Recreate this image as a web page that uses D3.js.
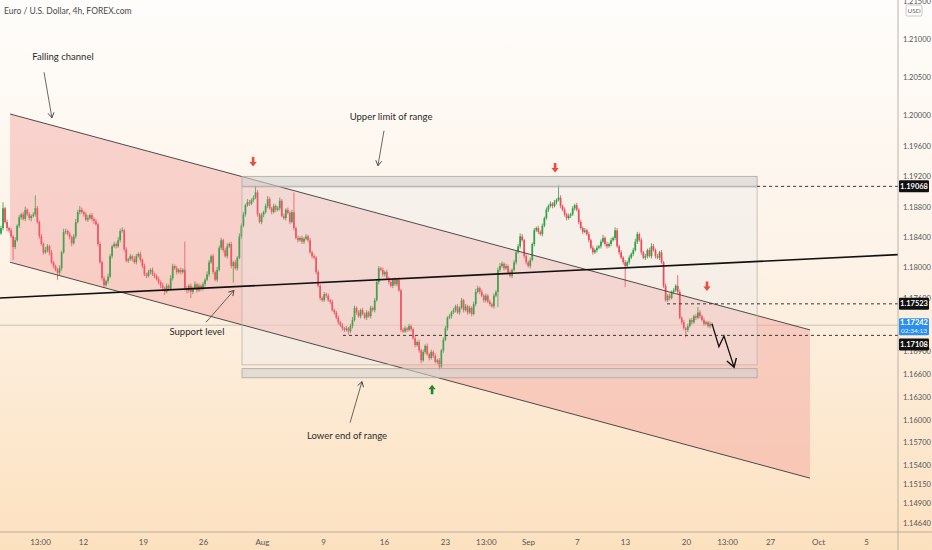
<!DOCTYPE html>
<html lang="en">
<head>
<meta charset="UTF-8">
<title>Euro / U.S. Dollar, 4h</title>
<script src="https://d3js.org/d3.v7.min.js"></script>
<style>
  body { margin: 0; background: #fff; }
  svg { display: block; font-family: Lato, "Open Sans", sans-serif; }
</style>
</head>
<body>
<svg width="932" height="550"></svg>
<script>
// 4h closes, one per bar
const closes = [
  1.1852, 1.1878, 1.1860, 1.1852, 1.1849, 1.1841, 1.1827, 1.1836, 1.1855, 1.1866,
  1.1870, 1.1864, 1.1876, 1.1870, 1.1865, 1.1868, 1.1870, 1.1878, 1.1860, 1.1841,
  1.1831, 1.1820, 1.1823, 1.1828, 1.1820, 1.1807, 1.1802, 1.1797, 1.1793, 1.1799,
  1.1820, 1.1847, 1.1848, 1.1844, 1.1840, 1.1832, 1.1841, 1.1860, 1.1873, 1.1876,
  1.1873, 1.1870, 1.1863, 1.1865, 1.1869, 1.1864, 1.1861, 1.1857, 1.1831, 1.1807,
  1.1786, 1.1777, 1.1782, 1.1788, 1.1815, 1.1828, 1.1831, 1.1828, 1.1836, 1.1848,
  1.1849, 1.1824, 1.1809, 1.1811, 1.1815, 1.1811, 1.1807, 1.1815, 1.1818, 1.1810,
  1.1802, 1.1791, 1.1789, 1.1794, 1.1797, 1.1791, 1.1789, 1.1785, 1.1781, 1.1777,
  1.1773, 1.1768, 1.1776, 1.1772, 1.1786, 1.1802, 1.1799, 1.1794, 1.1797, 1.1794,
  1.1797, 1.1773, 1.1770, 1.1776, 1.1768, 1.1773, 1.1778, 1.1770, 1.1776, 1.1772,
  1.1778, 1.1784, 1.1791, 1.1807, 1.1815, 1.1794, 1.1784, 1.1797, 1.1826, 1.1836,
  1.1823, 1.1815, 1.1828, 1.1831, 1.1802, 1.1807, 1.1799, 1.1813, 1.1841, 1.1855,
  1.1870, 1.1882, 1.1886, 1.1884, 1.1889, 1.1892, 1.1899, 1.1870, 1.1860, 1.1869,
  1.1873, 1.1881, 1.1890, 1.1878, 1.1873, 1.1881, 1.1876, 1.1878, 1.1888, 1.1868,
  1.1865, 1.1876, 1.1872, 1.1860, 1.1873, 1.1852, 1.1839, 1.1836, 1.1839, 1.1834,
  1.1838, 1.1841, 1.1836, 1.1820, 1.1815, 1.1813, 1.1794, 1.1776, 1.1760, 1.1757,
  1.1765, 1.1763, 1.1757, 1.1755, 1.1744, 1.1741, 1.1734, 1.1728, 1.1724, 1.1720,
  1.1718, 1.1720, 1.1716, 1.1723, 1.1731, 1.1747, 1.1741, 1.1736, 1.1744, 1.1739,
  1.1734, 1.1741, 1.1736, 1.1747, 1.1744, 1.1757, 1.1781, 1.1799, 1.1797, 1.1791,
  1.1794, 1.1786, 1.1781, 1.1776, 1.1784, 1.1778, 1.1784, 1.1770, 1.1718, 1.1716,
  1.1720, 1.1718, 1.1723, 1.1719, 1.1707, 1.1698, 1.1702, 1.1691, 1.1678, 1.1689,
  1.1697, 1.1686, 1.1681, 1.1689, 1.1684, 1.1676, 1.1678, 1.1670, 1.1691, 1.1705,
  1.1720, 1.1734, 1.1736, 1.1741, 1.1744, 1.1749, 1.1741, 1.1747, 1.1757, 1.1744,
  1.1749, 1.1741, 1.1747, 1.1739, 1.1752, 1.1768, 1.1773, 1.1768, 1.1763, 1.1757,
  1.1763, 1.1755, 1.1752, 1.1749, 1.1763, 1.1768, 1.1797, 1.1802, 1.1805, 1.1799,
  1.1802, 1.1794, 1.1789, 1.1797, 1.1807, 1.1820, 1.1828, 1.1841, 1.1836, 1.1815,
  1.1807, 1.1802, 1.1810, 1.1831, 1.1849, 1.1852, 1.1847, 1.1844, 1.1855, 1.1865,
  1.1876, 1.1881, 1.1884, 1.1881, 1.1886, 1.1889, 1.1892, 1.1881, 1.1876, 1.1870,
  1.1865, 1.1868, 1.1870, 1.1878, 1.1882, 1.1876, 1.1860, 1.1852, 1.1847, 1.1849,
  1.1844, 1.1836, 1.1826, 1.1820, 1.1823, 1.1826, 1.1828, 1.1834, 1.1839, 1.1831,
  1.1828, 1.1831, 1.1836, 1.1839, 1.1849, 1.1828, 1.1820, 1.1813, 1.1807, 1.1802,
  1.1807, 1.1813, 1.1818, 1.1823, 1.1834, 1.1844, 1.1836, 1.1820, 1.1813, 1.1815,
  1.1823, 1.1815, 1.1828, 1.1823, 1.1815, 1.1813, 1.1820, 1.1807, 1.1776, 1.1757,
  1.1763, 1.1760, 1.1768, 1.1770, 1.1776, 1.1768, 1.1734, 1.1728, 1.1720, 1.1718,
  1.1723, 1.1731, 1.1728, 1.1736, 1.1734, 1.1741, 1.1736, 1.1731, 1.1726, 1.1728,
  1.1723, 1.1726, 1.1724
];
const firstOpen = 1.1845;

// wick lengths beyond the body, in pips
const wickUp = [
  3,8,2,3,2,3,2,4,2,3, 2,3,4,2,3,2,3,17,3,2, 3,2,4,3,2,3,2,2,3,4, 2,4,3,2,3,2,3,4,3,5,
  3,2,3,4,2,3,2,3,2,3, 2,3,2,4,3,2,3,2,4,3, 4,2,3,2,3,2,4,3,2,3, 2,3,2,3,2,3,2,2,3,2,
  3,2,3,2,4,3,2,3,2,3, 2,37,3,2,3,2,4,2,3,2, 3,2,4,3,2,3,2,4,3,3, 2,3,4,2,3,2,3,2,4,3,
  3,2,4,3,2,3,9,3,2,3, 2,3,4,3,2,3,2,3,4,2, 3,2,3,2,3,26,2,3,2,3, 2,3,2,3,2,3,2,3,2,2,
  3,2,3,2,3,2,2,3,2,3, 2,3,2,3,4,3,2,3,2,3, 2,3,2,3,2,3,4,3,2,3, 2,3,2,3,2,3,2,3,2,3,
  3,2,3,2,2,3,2,3,2,3, 2,3,2,3,2,3,2,3,2,3, 3,2,3,2,3,2,3,2,3,2, 3,2,3,2,3,4,3,2,3,2,
  3,2,3,2,3,2,3,4,3,2, 3,2,3,2,3,2,3,4,3,2, 3,2,3,2,3,2,3,2,3,2, 3,2,3,2,3,2,17,3,2,3,
  2,3,2,3,2,3,2,3,2,3, 2,3,2,3,2,3,2,3,4,2, 3,2,3,2,4,3,2,3,2,3, 2,3,2,3,4,3,2,3,2,3,
  2,3,4,3,2,3,2,3,2,3, 2,3,2,3,2,14,3,2,3,2, 3,2,3,2,3,7,3,2,3,2, 2,3,2
];
const wickDown = [
  2,3,2,4,3,2,17,3,2,3, 3,2,3,2,3,4,2,3,2,3, 2,3,2,3,4,2,3,2,9,3, 3,2,3,2,3,4,2,3,2,3,
  2,3,2,3,2,3,4,2,3,2, 3,4,2,3,2,3,2,3,2,3, 2,3,2,3,2,3,2,3,2,3, 3,2,3,2,3,2,3,2,3,4,
  3,4,2,3,2,3,2,3,2,3, 2,3,4,3,8,3,2,3,2,3, 2,3,2,3,2,3,2,3,2,3, 3,2,3,2,3,22,2,3,2,3,
  2,3,2,3,2,3,2,3,2,3, 3,2,3,2,3,2,3,2,3,2, 2,3,2,3,2,3,2,3,2,3, 3,2,3,2,3,2,3,2,3,2,
  2,3,2,3,2,3,2,3,2,3, 3,2,4,2,3,2,3,2,3,2, 2,3,2,3,2,3,2,3,2,3, 3,2,3,2,3,2,3,2,3,2,
  2,3,2,3,2,3,2,3,4,2, 3,2,3,2,3,2,3,5,2,3, 2,3,2,3,2,3,2,3,2,3, 2,3,2,3,2,3,2,3,2,3,
  3,2,3,2,3,2,20,3,2,3, 2,3,2,3,2,3,2,3,2,3, 3,2,3,2,3,2,3,2,3,2, 2,3,2,3,2,3,2,3,2,3,
  3,2,3,2,3,2,3,2,3,2, 2,3,2,3,2,3,2,3,2,3, 3,2,3,2,3,2,3,2,3,28, 2,3,2,3,2,3,2,3,2,3,
  3,2,3,2,3,2,3,2,3,2, 2,3,2,3,2,3,2,3,2,10, 3,2,3,2,3,2,3,2,3,2, 2,3,2
];

// axes
const priceTicks = [1.215, 1.21, 1.205, 1.2, 1.196, 1.192, 1.188, 1.184, 1.18, 1.176,
  1.169, 1.166, 1.163, 1.16, 1.157, 1.154, 1.1515, 1.149, 1.1464];
const timeTickBars = [19.3, 40.6, 70.3, 100, 129.2, 159.4, 189.6, 219.8, 240, 260.9,
  285, 308.9, 339.1, 359.4, 380.7, 404.5, 428.2];
const timeTickLabels = ["13:00", "12", "19", "26", "Aug", "9", "16", "23", "13:00", "Sep",
  "7", "13", "20", "13:00", "27", "Oct", "5"];

// drawings, as [bar, price]
const channelTop = [[4.5, 1.2002], [400.5, 1.1718]];
const channelBottom = [[4.5, 1.1807], [400.5, 1.1523]];
const supportLine = [[-0.5, 1.1760], [444, 1.1817]];
const rangeBars = [119.3, 374.3];
const rangeTopBand = [1.1920, 1.1907];
const rangeBox = [1.1906, 1.1672];
const rangeBottomBand = [1.1667, 1.1655];
const levels = [
  { price: 1.19068, from: 374.3 },
  { price: 1.17523, from: 329.7 },
  { price: 1.17108, from: 169.3 }
];
const lastPrice = 1.17242;
const countdown = "02:34:13";
const projection = [[352, 1.1726], [355.4, 1.1696], [357.9, 1.1710], [362.9, 1.1669]];
const redArrows = [[124.8, 1.1939], [274.3, 1.1931], [349.5, 1.1775]];
const greenArrows = [[213.4, 1.1640]];
const notes = [
  { text: "Falling channel", at: [30.7, 1.2076], from: [21.3, 1.2057], to: [25.2, 1.1997] },
  { text: "Upper limit of range", at: [193.1, 1.1997], from: [189.6, 1.1980], to: [186.6, 1.1934] },
  { text: "Support level", at: [97, 1.1714], from: [101.5, 1.1728], to: [115.3, 1.1770] },
  { text: "Lower end of range", at: [171.3, 1.1578], from: [172.8, 1.1596], to: [178.7, 1.1650] }
];

const W = 932, H = 550, plotR = 898, plotB = 532;
const upColor = "#2f9e42", downColor = "#ee4a5b";

const x = d3.scaleLinear().domain([0, 444]).range([1, 897.9]);
const y = d3.scaleLinear().domain([1.1464, 1.21]).range([523, 39.5]);
const pt = d => [x(d[0]), y(d[1])];

const svg = d3.select("svg");
const defs = svg.append("defs");

const bg = defs.append("linearGradient").attr("id", "bg")
  .attr("x1", 0).attr("y1", 0).attr("x2", 0).attr("y2", 1);
bg.append("stop").attr("offset", "0%").attr("stop-color", "#fefdfb");
bg.append("stop").attr("offset", "45%").attr("stop-color", "#fdf3e8");
bg.append("stop").attr("offset", "100%").attr("stop-color", "#fce1bf");

defs.append("clipPath").attr("id", "plot")
  .append("rect").attr("width", plotR).attr("height", plotB);

const head = defs.append("marker").attr("id", "head")
  .attr("markerUnits", "userSpaceOnUse")
  .attr("viewBox", "-6 -4 8 8").attr("refX", 0).attr("refY", 0)
  .attr("markerWidth", 8).attr("markerHeight", 8).attr("orient", "auto");
head.append("path").attr("d", "M-5,-3 L0,0 L-5,3")
  .attr("fill", "none").attr("stroke", "#444").attr("stroke-width", 0.9);

const bigHead = defs.append("marker").attr("id", "bigHead")
  .attr("markerUnits", "userSpaceOnUse")
  .attr("viewBox", "-9 -6 11 12").attr("refX", 0).attr("refY", 0)
  .attr("markerWidth", 11).attr("markerHeight", 12).attr("orient", "auto");
bigHead.append("path").attr("d", "M-8,-5 L0,0 L-8,5")
  .attr("fill", "none").attr("stroke", "#111").attr("stroke-width", 1.4);

svg.append("rect").attr("width", W).attr("height", H).attr("fill", "url(#bg)");

const plot = svg.append("g").attr("clip-path", "url(#plot)");

// current price line
plot.append("line")
  .attr("x1", 0).attr("x2", plotR)
  .attr("y1", y(lastPrice)).attr("y2", y(lastPrice))
  .attr("stroke", "#bdbab6").attr("stroke-width", 0.8);

// falling channel fill and range fills sit under the candles
const chan = [channelTop[0], channelTop[1], channelBottom[1], channelBottom[0]].map(pt);
plot.append("path")
  .attr("d", "M" + chan.join("L") + "Z")
  .attr("fill", "#f28f8f").attr("fill-opacity", 0.32);

const rx0 = x(rangeBars[0]), rx1 = x(rangeBars[1]);
plot.append("rect")
  .attr("x", rx0).attr("width", rx1 - rx0)
  .attr("y", y(rangeBox[0])).attr("height", y(rangeBox[1]) - y(rangeBox[0]))
  .attr("fill", "#ececec").attr("fill-opacity", 0.4);

// candles
const candles = closes.map((c, i) => {
  const o = i ? closes[i - 1] : firstOpen;
  return {
    i, o, c,
    h: Math.max(o, c) + wickUp[i] / 10000,
    l: Math.min(o, c) - wickDown[i] / 10000
  };
});

const cg = plot.append("g");
cg.selectAll("line").data(candles).join("line")
  .attr("x1", d => x(d.i)).attr("x2", d => x(d.i))
  .attr("y1", d => y(d.h)).attr("y2", d => y(d.l))
  .attr("stroke", d => d.c >= d.o ? upColor : downColor)
  .attr("stroke-width", 0.8);
cg.selectAll("rect").data(candles).join("rect")
  .attr("x", d => x(d.i) - 0.85).attr("width", 1.7)
  .attr("y", d => y(Math.max(d.o, d.c)))
  .attr("height", d => Math.max(0.8, Math.abs(y(d.o) - y(d.c))))
  .attr("fill", d => d.c >= d.o ? upColor : downColor);

// light veil of the drawings over the candles
plot.append("path")
  .attr("d", "M" + chan.join("L") + "Z")
  .attr("fill", "#f6b3b0").attr("fill-opacity", 0.12);

[channelTop, channelBottom].forEach(l => {
  plot.append("line")
    .attr("x1", x(l[0][0])).attr("y1", y(l[0][1]))
    .attr("x2", x(l[1][0])).attr("y2", y(l[1][1]))
    .attr("stroke", "#3a3a3a").attr("stroke-width", 0.9);
});

// range outline and bands
plot.append("rect")
  .attr("x", rx0).attr("width", rx1 - rx0)
  .attr("y", y(rangeBox[0])).attr("height", y(rangeBox[1]) - y(rangeBox[0]))
  .attr("fill", "none")
  .attr("stroke", "#b9b5b0").attr("stroke-width", 0.8);
[rangeTopBand, rangeBottomBand].forEach(b => {
  plot.append("rect")
    .attr("x", rx0).attr("width", rx1 - rx0)
    .attr("y", y(b[0])).attr("height", y(b[1]) - y(b[0]))
    .attr("fill", "#d4d2d0").attr("fill-opacity", 0.6)
    .attr("stroke", "#a9a6a2").attr("stroke-width", 0.8);
});

// support level
plot.append("line")
  .attr("x1", x(supportLine[0][0])).attr("y1", y(supportLine[0][1]))
  .attr("x2", x(supportLine[1][0])).attr("y2", y(supportLine[1][1]))
  .attr("stroke", "#111").attr("stroke-width", 1.6);

// dashed levels
plot.selectAll(".lvl").data(levels).join("line")
  .attr("x1", d => x(d.from)).attr("x2", plotR)
  .attr("y1", d => y(d.price)).attr("y2", d => y(d.price))
  .attr("stroke", "#222").attr("stroke-width", 0.9)
  .attr("stroke-dasharray", "3,3");

// projected path
plot.append("path")
  .attr("d", "M" + projection.map(pt).join("L"))
  .attr("fill", "none").attr("stroke", "#111").attr("stroke-width", 1.3)
  .attr("marker-end", "url(#bigHead)");

// arrow marks
const arrowShape = "M-1.3,-5 H1.3 V0 H3.6 L0,4.5 L-3.6,0 H-1.3 Z";
plot.selectAll(".down").data(redArrows).join("path")
  .attr("transform", d => `translate(${pt(d)})`)
  .attr("d", arrowShape).attr("fill", "#ef4b3c");
plot.selectAll(".up").data(greenArrows).join("path")
  .attr("transform", d => `translate(${pt(d)}) rotate(180)`)
  .attr("d", arrowShape).attr("fill", "#1e8a2c");

// notes
notes.forEach(n => {
  plot.append("line")
    .attr("x1", x(n.from[0])).attr("y1", y(n.from[1]))
    .attr("x2", x(n.to[0])).attr("y2", y(n.to[1]))
    .attr("stroke", "#444").attr("stroke-width", 0.8)
    .attr("marker-end", "url(#head)");
  plot.append("text")
    .attr("x", x(n.at[0])).attr("y", y(n.at[1]))
    .attr("text-anchor", "middle").attr("dominant-baseline", "middle")
    .attr("font-size", 9.5).attr("fill", "#2b2b2b")
    .text(n.text);
});

// title
svg.append("text").attr("x", 4).attr("y", 14)
  .attr("font-size", 8.5).attr("fill", "#4a4a4a")
  .text("Euro / U.S. Dollar, 4h, FOREX.com");

// time axis
const xAxis = svg.append("g")
  .attr("transform", `translate(0,${plotB})`)
  .call(d3.axisBottom(x).tickValues(timeTickBars)
    .tickFormat((d, i) => timeTickLabels[i]).tickSize(0).tickPadding(7));
xAxis.select(".domain").remove();
xAxis.selectAll("text").attr("font-size", 8).attr("fill", "#555")
  .attr("font-family", "Lato, sans-serif");

// price axis
const yAxis = svg.append("g")
  .attr("transform", `translate(${plotR},0)`)
  .call(d3.axisRight(y).tickValues(priceTicks)
    .tickFormat(d3.format(".5f")).tickSize(0).tickPadding(5));
yAxis.select(".domain").remove();
yAxis.selectAll("text").attr("font-size", 7.5).attr("fill", "#555")
  .attr("font-family", "Lato, sans-serif");

svg.append("line").attr("x1", plotR).attr("x2", plotR).attr("y1", 0).attr("y2", H)
  .attr("stroke", "#a9a39b").attr("stroke-width", 0.8);
svg.append("line").attr("x1", 0).attr("x2", W).attr("y1", plotB).attr("y2", plotB)
  .attr("stroke", "#a9a39b").attr("stroke-width", 0.8);

// price badges
const badge = (price, label, fill, dy) => {
  const g = svg.append("g").attr("transform", `translate(${plotR + 1},${y(price) + dy})`);
  g.append("rect").attr("x", 0).attr("y", -6).attr("width", 30).attr("height", 12)
    .attr("rx", 1).attr("fill", fill);
  g.append("text").attr("x", 15).attr("y", 0)
    .attr("text-anchor", "middle").attr("dominant-baseline", "central")
    .attr("font-size", 7.5).attr("font-weight", "bold").attr("fill", "#fff")
    .attr("font-family", "Lato, sans-serif")
    .text(label);
  return g;
};
badge(levels[0].price, d3.format(".5f")(levels[0].price), "#111", 0);
badge(levels[1].price, d3.format(".5f")(levels[1].price), "#111", 0);
badge(levels[2].price, d3.format(".5f")(levels[2].price), "#111", 9);

const cur = svg.append("g").attr("transform", `translate(${plotR + 1},${y(lastPrice)})`);
cur.append("rect").attr("x", 0).attr("y", -7).attr("width", 30).attr("height", 17)
  .attr("rx", 1).attr("fill", "#2a8ff0");
cur.append("text").attr("x", 15).attr("y", -2.5)
  .attr("text-anchor", "middle").attr("dominant-baseline", "central")
  .attr("font-size", 7.5).attr("font-weight", "bold").attr("fill", "#fff")
  .attr("font-family", "Lato, sans-serif").text(d3.format(".5f")(lastPrice));
cur.append("text").attr("x", 15).attr("y", 5)
  .attr("text-anchor", "middle").attr("dominant-baseline", "central")
  .attr("font-size", 6.5).attr("fill", "#e6f1ff")
  .attr("font-family", "Lato, sans-serif").text(countdown);

// currency tag
svg.append("rect").attr("x", 906).attr("y", 5).attr("width", 16).attr("height", 11)
  .attr("rx", 1.5).attr("fill", "#fff").attr("stroke", "#b5b0aa").attr("stroke-width", 0.7);
svg.append("text").attr("x", 914).attr("y", 10.8)
  .attr("text-anchor", "middle").attr("dominant-baseline", "central")
  .attr("font-size", 6.5).attr("fill", "#666").text("USD");
</script>
</body>
</html>
